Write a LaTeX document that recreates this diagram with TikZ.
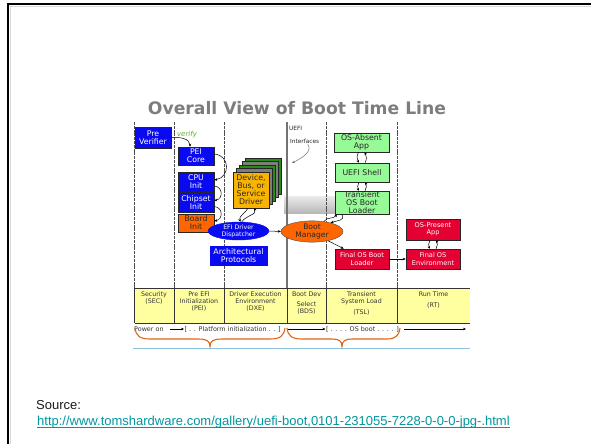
\documentclass[tikz,border=0pt]{standalone}
\usepackage{fontspec}
\setmainfont{DejaVu Sans}
\newfontfamily\arialf{Liberation Sans}
\usetikzlibrary{arrows.meta,shapes.geometric}
\definecolor{bxblue}{RGB}{10,10,240}
\definecolor{bxorange}{RGB}{255,102,0}
\definecolor{bxgold}{RGB}{248,180,0}
\definecolor{bxgreen}{RGB}{150,250,150}
\definecolor{bxred}{RGB}{228,0,50}
\definecolor{bandyellow}{RGB}{255,255,160}
\definecolor{stackgreen}{RGB}{40,140,20}
\definecolor{stackgray}{RGB}{125,125,125}
\definecolor{bracecol}{RGB}{225,100,20}
\definecolor{lineblue}{RGB}{140,195,225}
\definecolor{titlegray}{RGB}{125,125,125}
\definecolor{verifygreen}{RGB}{90,180,40}
\definecolor{linkteal}{RGB}{0,150,160}
\tikzset{
  bx/.style={draw=black!85, line width=0.5pt, inner sep=0pt, align=center,
    font=\fontsize{7.8}{8}\selectfont},
  bluebx/.style={bx, fill=bxblue, text=white},
  greenbx/.style={bx, fill=bxgreen, text=black!85},
  redbx/.style={bx, fill=bxred, text=white, font=\fontsize{6.6}{7.2}\selectfont},
  stackbx/.style={draw=black!85, line width=0.5pt, minimum width=36pt, minimum height=36pt, inner sep=0pt},
  arr/.style={-{Stealth[length=3pt,width=2.6pt]}, line width=0.5pt, black},
  colline/.style={dash pattern=on 3pt off 0.8pt, line width=0.6pt, black!70},
  bandtxt/.style={font=\fontsize{6.3}{7}\selectfont, align=center, text=black!80, inner sep=0pt},
  tltxt/.style={font=\fontsize{6.4}{7}\selectfont, text=black!80, inner sep=0.5pt, anchor=west},
  bracepath/.style={draw=bracecol, line width=1.1pt},
}
\begin{document}
\begin{tikzpicture}[x=1pt,y=-1pt]
\useasboundingbox (0,0) rectangle (591,444);
\fill[white] (0,0) rectangle (591,444);
% slide frame
\draw[black!15, line width=1pt] (10,7) -- (591,7);
\draw[black!15, line width=1pt] (10,7) -- (10,444);
\draw[black, line width=2pt] (7,4.5) -- (591,4.5);
\draw[black, line width=2pt] (8,4.5) -- (8,444);
% title
\node[font=\fontsize{17.2}{20}\selectfont\bfseries, text=titlegray, inner sep=0pt] (title) at (297,108) {Overall View of Boot Time Line};
% gray band
\shade[top color=black!8, bottom color=black!28, middle color=black!18] (284,196) rectangle (337,213);
% column lines
\draw[colline] (134.5,122) -- (134.5,323);
\draw[colline] (174,122) -- (174,323);
\draw[colline] (224,122) -- (224,323);
\draw[black!55, line width=1.1pt] (287,122) -- (287,323);
\draw[colline] (326,122) -- (326,323);
\draw[colline] (397,122) -- (397,323);
% yellow band
\fill[bandyellow] (134.5,288) rectangle (470,323);
\draw[black!80, line width=0.5pt] (134.5,288) -- (470,288);
\draw[black!80, line width=0.5pt] (134.5,323) -- (470,323);
\foreach \xx in {134.5,174,224,287,326,397}{\draw[black!80, line width=0.5pt] (\xx,288) -- (\xx,323);}
\node[bandtxt, anchor=north] (sec) at (154,291.5) {Security\\(SEC)};
\node[bandtxt, anchor=north] (pei) at (199,291.5) {Pre EFI\\Initialization\\(PEI)};
\node[bandtxt, anchor=north] (dxe) at (255.5,291.5) {Driver Execution\\Environment\\(DXE)};
\node[bandtxt, anchor=north] (bds1) at (306.5,291.5) {Boot Dev};
\node[bandtxt, anchor=north] (bds2) at (306.5,302) {Select\\(BDS)};
\node[bandtxt, anchor=north] (tsl1) at (361.5,291.5) {Transient\\System Load};
\node[bandtxt, anchor=north] (tsl2) at (361.5,310) {(TSL)};
\node[bandtxt, anchor=north] (rt1) at (433.5,291.5) {Run Time};
\node[bandtxt, anchor=north] (rt2) at (433.5,302.5) {(RT)};
% Pre verifier and PEI
\node[bluebx, minimum width=36pt, minimum height=21pt] (pv) at (153,137.5) {Pre\\Verifier};
\node[bluebx, minimum width=36pt, minimum height=18pt] (peic) at (196,156) {PEI\\Core};
\node[bluebx, minimum width=36pt, minimum height=20pt] (cpu) at (196,182) {CPU\\Init};
\node[bluebx, minimum width=36pt, minimum height=19pt] (chip) at (196,202.5) {Chipset\\Init};
\node[bx, fill=bxorange, text=black!85, minimum width=36pt, minimum height=18pt] (board) at (196,223) {Board\\Init};
\node[font=\fontsize{7}{7}\selectfont\itshape, text=verifygreen, inner sep=0pt] (verify) at (187,135) {verify};
\draw[arr] (pv.east) to[out=5,in=90] ([xshift=-6pt]peic.north);
\draw[arr] ([yshift=2pt]peic.east) to[out=-5,in=10,looseness=1.6] ([yshift=2pt]cpu.east);
\draw[arr] ([yshift=-4pt]cpu.east) to[out=-5,in=10,looseness=1.6] ([yshift=2pt]chip.east);
\draw[arr] ([yshift=-4pt]chip.east) to[out=-5,in=10,looseness=1.6] ([yshift=2pt]board.east);
% driver stack
\node[stackbx, fill=stackgreen] (st4) at (263,176) {};
\node[stackbx, fill=stackgray] (st3) at (260,179.5) {};
\node[stackbx, fill=stackgreen] (st2) at (257,183) {};
\node[stackbx, fill=stackgray] (st1) at (254,186.5) {};
\node[bx, fill=bxgold, text=black!85, minimum width=36pt, minimum height=36pt] (dev) at (251,190) {Device,\\Bus, or\\Service\\Driver};
% dispatcher
\node[ellipse, draw=bxblue, fill=bxblue, text=white, inner sep=0pt, minimum width=61pt, minimum height=18pt, align=center, font=\fontsize{6.2}{6.6}\selectfont] (disp) at (238.5,231) {EFI Driver\\Dispatcher};
\node[bluebx, draw=bxblue, minimum width=57pt, minimum height=19pt] (arch) at (238.5,255.5) {Architectural\\Protocols};
\draw[arr] ([xshift=-3pt]dev.south) to[out=-120,in=110] (disp.78);
\draw[arr] (disp.70) to[out=60,in=-60] ([xshift=3pt]dev.south);
% boot manager
\node[ellipse, draw=black!70, line width=0.4pt, fill=bxorange, text=black!85, inner sep=0pt, minimum width=62pt, minimum height=19pt, align=center, font=\fontsize{7.6}{7.9}\selectfont] (bm) at (312,231.5) {Boot\\Manager};
\draw[arr] (disp.east) -- (bm.west);
% UEFI interfaces
\node[font=\fontsize{5.8}{6}\selectfont, inner sep=0pt, anchor=west, text=black!85] (uefi) at (289,128) {UEFI};
\node[font=\fontsize{5.8}{6}\selectfont, inner sep=0pt, anchor=west, text=black!85] (intf) at (290,141) {Interfaces};
\coordinate (intfend) at (292,163);
\draw[-{Stealth[length=3pt,width=2.4pt]}, black!55, line width=0.5pt] ([xshift=3pt,yshift=-1pt]intf.south) .. controls (312,150) and (306,156) .. (intfend);
% TSL column
\node[greenbx, minimum width=55pt, minimum height=19pt] (osa) at (361.5,142.5) {OS-Absent\\App};
\node[greenbx, minimum width=54pt, minimum height=19pt] (shell) at (362,172.5) {UEFI Shell};
\node[greenbx, minimum width=54pt, minimum height=23pt] (tosl) at (362,202.5) {Transient\\OS Boot\\Loader};
\node[redbx, minimum width=54pt, minimum height=20pt] (fobl) at (362,259) {Final OS Boot\\Loader};
\draw[arr] ([xshift=-3pt]osa.south) to[out=-120,in=120] ([xshift=-3pt]shell.north);
\draw[arr] ([xshift=3pt]shell.north) to[out=60,in=-60] ([xshift=3pt]osa.south);
\draw[arr] ([xshift=-3pt]shell.south) to[out=-120,in=120] ([xshift=-3pt]tosl.north);
\draw[arr] ([xshift=3pt]tosl.north) to[out=60,in=-60] ([xshift=3pt]shell.south);
\draw[arr] (bm.40) to[out=60,in=-120] ([xshift=2pt]tosl.south west);
\draw[arr] ([xshift=7pt]tosl.south west) to[out=-60,in=20,looseness=1.4] (bm.25);
\draw[arr] (bm.-30) -- ([xshift=9pt]fobl.north west);
% RT column
\node[redbx, minimum width=54pt, minimum height=21pt] (ospa) at (433,229.5) {OS-Present\\App};
\node[redbx, minimum width=54pt, minimum height=20pt] (fose) at (433,259) {Final OS\\Environment};
\draw[arr] ([xshift=-3pt]ospa.south) to[out=-120,in=120] ([xshift=-3pt]fose.north);
\draw[arr] ([xshift=3pt]fose.north) to[out=60,in=-60] ([xshift=3pt]ospa.south);
\draw[arr] (fobl.east) -- (fose.west);
% timeline
\node[tltxt] (pon) at (133.5,329) {Power on};
\node[tltxt] (plat) at (184,329) {[ . . Platform initialization . . ]};
\node[tltxt] (osb) at (325.5,329) {[ . . . . OS boot . . . . ]};
\coordinate (tlend) at (466,329);
\draw[arr, line width=0.6pt] ([xshift=6pt]pon.east) -- (plat.west);
\draw[arr, line width=0.6pt] ([xshift=6pt]plat.east) -- (osb.west);
\draw[arr, line width=0.6pt] ([xshift=5pt]osb.east) -- (tlend);
% braces
\draw[bracepath] (135,328) .. controls (136,336) and (140,339) .. (150,339) -- (198,339) .. controls (207,339) and (210,341) .. (210,346.5) .. controls (210,341) and (213,339) .. (222,339) -- (270,339) .. controls (280,339) and (284,336) .. (285,328);
\draw[bracepath] (287,328) .. controls (288,336) and (292,339) .. (302,339) -- (332,339) .. controls (339,339) and (342,341) .. (342,346.5) .. controls (342,341) and (345,339) .. (352,339) -- (387,339) .. controls (395,339) and (399,336) .. (400,328);
\draw[lineblue, line width=0.8pt] (133,348.5) -- (470,348.5);
% source
\node[font=\arialf\fontsize{13}{14}\selectfont, anchor=base west, inner sep=0pt, text=black!90] (src) at (36,409.5) {Source:};
\node[font=\arialf\fontsize{13}{14}\selectfont, anchor=base west, inner sep=0pt, text=linkteal] (url) at (37,425) {http://www.tomshardware.com/gallery/uefi-boot,0101-231055-7228-0-0-0-jpg-.html};
\draw[linkteal, line width=0.6pt] ([yshift=-1.8pt]url.base west) -- ([yshift=-1.8pt]url.base east);
\end{tikzpicture}
\end{document}
